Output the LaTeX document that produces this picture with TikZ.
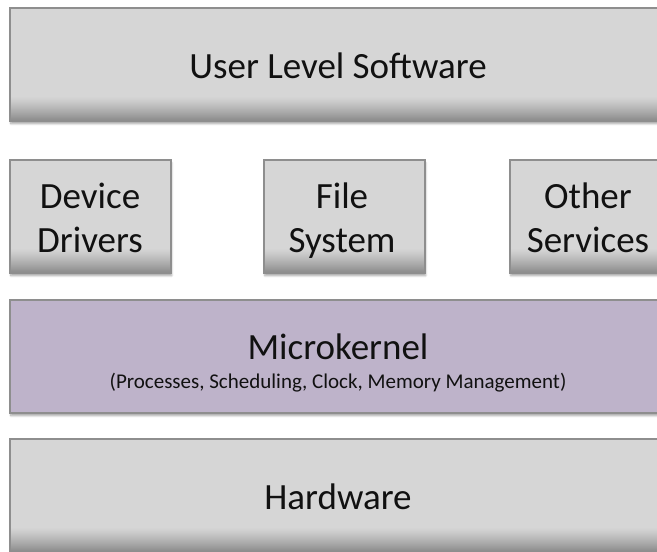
\documentclass[tikz,border=0pt]{standalone}
\usepackage{fontspec}
\setmainfont{Carlito}
\usetikzlibrary{shadows.blur}

\definecolor{layergray}{HTML}{D6D6D6}
\definecolor{layerdark}{HTML}{8C8C8C}
\definecolor{layeredge}{HTML}{8E8E8E}
\definecolor{kernelfill}{HTML}{BEB3CA}
\definecolor{inktext}{HTML}{111111}

\tikzset{
  % flat box with border and soft drop shadow
  plainbox/.style={
    draw=layeredge, line width=1.5pt,
    anchor=north west, inner sep=0pt,
    blur shadow={shadow xshift=1pt, shadow yshift=-3pt,
                 shadow blur steps=6, shadow opacity=35}
  },
  % grey box whose lower edge darkens in a soft band
  layer/.style={
    plainbox, fill=layergray,
    path picture={
      \foreach \i [evaluate=\i as \p using {100*(\i/24)^1.2}] in {1,...,24}
        \fill[layerdark!\p!layergray]
          ([yshift={(25-\i)*1pt}]path picture bounding box.south west)
          rectangle
          ([yshift={(24-\i)*1pt}]path picture bounding box.south east);
    }
  },
  kernel/.style={plainbox, fill=kernelfill},
  wide/.style={minimum width=660pt, minimum height=113pt},
  service/.style={minimum width=161pt, minimum height=113pt},
  bigtext/.style={text=inktext, anchor=base, inner sep=0pt,
                  font=\fontsize{37}{44}\selectfont},
  smalltext/.style={text=inktext, anchor=base, inner sep=0pt,
                    font=\fontsize{21}{25}\selectfont}
}

\begin{document}
\begin{tikzpicture}[x=1pt, y=-1pt]
  \useasboundingbox (0,0) rectangle (657,552);
  \clip (0,0) rectangle (657,552);

  % user space
  \node[layer, wide] (user) at (9,7) {};
  \node[bigtext] (usertext) at (338,78) {User Level Software};

  % servers running outside the kernel
  \node[layer, service] (drivers)  at (9,159)   {};
  \node[layer, service] (files)    at (263,159) {};
  \node[layer, service] (services) at (509,159) {};
  \node[bigtext] (drv1) at (90,208)  {Device};
  \node[bigtext] (drv2) at (90,252)  {Drivers};
  \node[bigtext] (fs1)  at (342,208) {File};
  \node[bigtext] (fs2)  at (342,252) {System};
  \node[bigtext] (os1)  at (588,208) {Other};
  \node[bigtext] (os2)  at (588,252) {Services};

  % the microkernel itself
  \node[kernel, wide] (kernel) at (9,299) {};
  \node[bigtext] (kname) at (338,359) {Microkernel};
  \node[smalltext] (kparts) at (338,388)
    {(Processes, Scheduling, Clock, Memory Management)};

  % hardware
  \node[layer, wide] (hw) at (9,438) {};
  \node[bigtext] (hwtext) at (338,509) {Hardware};
\end{tikzpicture}
\end{document}
